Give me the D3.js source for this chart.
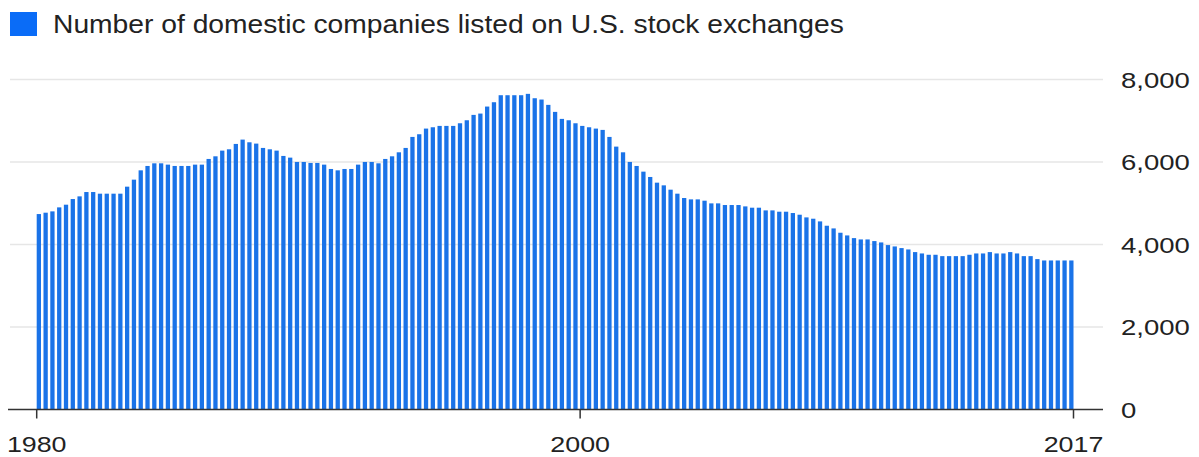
<!DOCTYPE html>
<html><head><meta charset="utf-8">
<script src="https://cdn.jsdelivr.net/npm/d3@7"></script>
<style>html,body{margin:0;padding:0;background:#fff;} svg{display:block;}</style>
</head><body><svg id="c" width="1199" height="457"></svg>
<script>
const title = "Number of domestic companies listed on U.S. stock exchanges";
const startYear = 1980;
// quarterly counts, 1980 Q1 onward
const companies = [
4738,4771,4803,4900,4965,5102,5167,5272,5272,5232,
5232,5232,5232,5402,5572,5798,5904,5968,5968,5936,
5904,5904,5904,5936,5936,6074,6138,6276,6308,6438,
6543,6478,6446,6341,6308,6276,6147,6106,6001,6001,
5977,5977,5936,5831,5798,5831,5831,5936,6001,6001,
5968,6074,6138,6235,6341,6608,6673,6810,6842,6875,
6875,6875,6939,7012,7142,7174,7344,7449,7619,7619,
7619,7619,7652,7546,7514,7385,7215,7045,
7012,6939,6875,6842,6810,6778,6608,6373,6235,6001,
5904,5766,5637,5499,5434,5329,5232,5127,5094,5094,
5062,4997,4997,4957,4957,4957,4924,4892,4892,4827,
4827,4795,4795,4763,4722,4657,4625,4560,4455,4390,
4285,4220,4155,4123,4123,4083,4050,3986,3953,3913,
3880,3816,3783,3751,3751,3718,3718,3718,3718,3751,
3783,3783,3816,3783,3783,3816,3783,3718,3718,3646,
3613,3613,3613,3613,3613
];
const quarters = companies.map((_, i) => `${startYear + Math.floor(i / 4)} Q${i % 4 + 1}`);
const yTicks = [0, 2000, 4000, 6000, 8000];
const xTickLabels = ["1980", "2000", "2017"];
const xTickQuarters = ["1980 Q1", "2000 Q1", "end"];

const svg = d3.select("#c");
const font = "'Liberation Sans', Arial, Helvetica, sans-serif";

const x = d3.scaleBand().domain(quarters).range([36.7, 1073.5]).paddingInner(0.37).paddingOuter(0);
const y = d3.scaleLinear().domain([0, 8000]).range([409.5, 79.5]);

// gridlines
svg.append("g").selectAll("line").data(yTicks.filter(t => t > 0)).join("line")
  .attr("x1", 10).attr("x2", 1103)
  .attr("y1", d => y(d)).attr("y2", d => y(d))
  .attr("stroke", "#e6e6e6").attr("stroke-width", 1.5);

// bars
svg.append("g").selectAll("rect").data(companies).join("rect")
  .attr("x", (d, i) => x(quarters[i]))
  .attr("width", x.bandwidth())
  .attr("y", d => y(d))
  .attr("height", d => y(0) - y(d))
  .attr("fill", "#1a73e8");

// baseline
svg.append("line").attr("x1", 8).attr("x2", 1103).attr("y1", y(0)).attr("y2", y(0))
  .attr("stroke", "#333").attr("stroke-width", 1.5);

// y labels
svg.append("g").selectAll("text").data(yTicks).join("text")
  .attr("transform", d => `translate(1121,${y(d) + 8}) scale(1.25,1)`)
  .attr("font-family", font).attr("font-size", 22).attr("fill", "#222")
  .text(d => d3.format(",")(d));

// x ticks
const xPos = q => q === "end" ? x.range()[1] : x(q);
const xt = svg.append("g");
xt.selectAll("line").data(xTickQuarters).join("line")
  .attr("x1", d => xPos(d)).attr("x2", d => xPos(d))
  .attr("y1", y(0)).attr("y2", y(0) + 9)
  .attr("stroke", "#333").attr("stroke-width", 1.5);
xt.selectAll("text").data(xTickQuarters).join("text")
  .attr("transform", d => `translate(${xPos(d)},452) scale(1.22,1)`)
  .attr("text-anchor", "middle")
  .attr("font-family", font).attr("font-size", 22).attr("fill", "#222")
  .text((d, i) => xTickLabels[i]);

// legend
svg.append("rect").attr("x", 10).attr("y", 12).attr("width", 27).attr("height", 24).attr("fill", "#0a6cf7");
svg.append("text").attr("transform", "translate(53,33) scale(1.13,1)")
  .attr("font-family", font).attr("font-size", 25).attr("fill", "#222")
  .text(title);
</script>
</body></html>
